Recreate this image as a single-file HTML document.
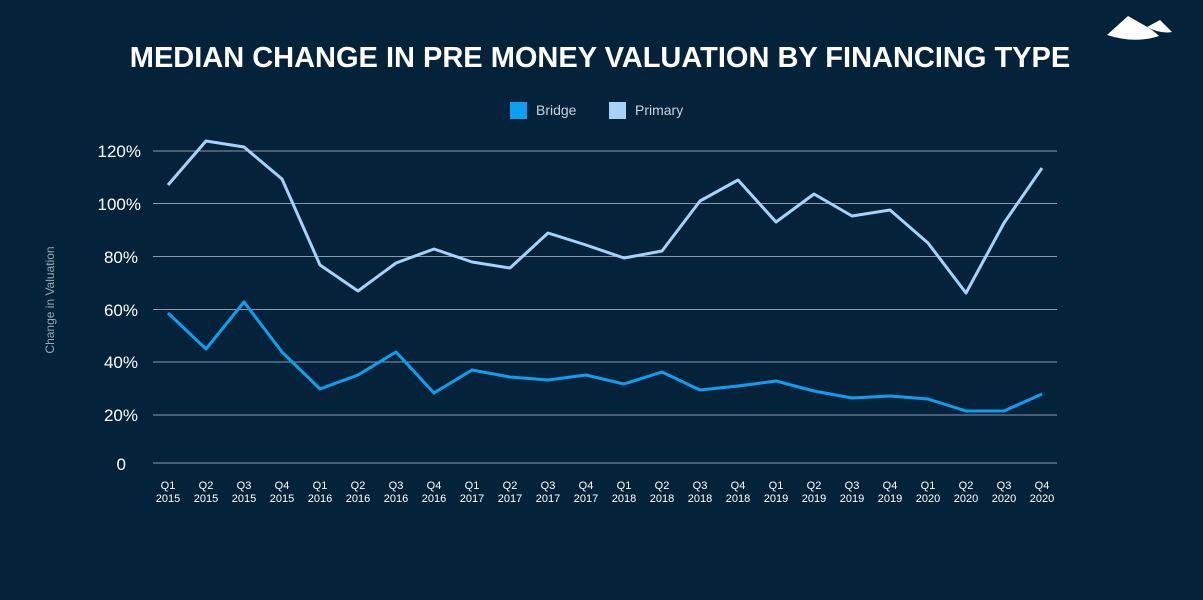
<!DOCTYPE html>
<html><head><meta charset="utf-8"><style>
body{margin:0;background:#04233b;}
svg{display:block;font-family:"Liberation Sans",sans-serif;}
</style></head><body>
<svg width="1203" height="600" viewBox="0 0 1203 600">
<rect width="1203" height="600" fill="#04233b"/>
<g transform="translate(1105,16)" fill="#fff">
<path d="M2,19 L23,0 L44,12 Q50,16 54,20 Q30,28 2,19Z"/>
<path d="M42,11 L55,4 L67,16 Q55,18 42,11Z"/>
</g>
<text x="600" y="67" text-anchor="middle" fill="#fff" font-size="29" font-weight="bold">MEDIAN CHANGE IN PRE MONEY VALUATION BY FINANCING TYPE</text>
<rect x="510" y="102" width="17" height="17" fill="#0d9ff0"/>
<text x="536" y="115" fill="#c9d3dd" font-size="14">Bridge</text>
<rect x="609" y="102" width="17" height="17" fill="#a6d1f8"/>
<text x="635" y="115" fill="#c9d3dd" font-size="14">Primary</text>
<g stroke="#8a9aa8" stroke-width="1">
<line x1="153" x2="1057" y1="151" y2="151"/><line x1="153" x2="1057" y1="203.5" y2="203.5"/>
<line x1="153" x2="1057" y1="256.5" y2="256.5"/><line x1="153" x2="1057" y1="309.5" y2="309.5"/>
<line x1="153" x2="1057" y1="362" y2="362"/><line x1="153" x2="1057" y1="415" y2="415"/>
<line x1="153" x2="1057" y1="463" y2="463"/>
</g>
<g fill="#fff" font-size="17" text-anchor="end">
<text x="141" y="157">120%</text><text x="141" y="210">100%</text><text x="138" y="263">80%</text>
<text x="138" y="316">60%</text><text x="138" y="368">40%</text><text x="138" y="421">20%</text><text x="126" y="470">0</text>
</g>
<text transform="translate(54,300) rotate(-90)" text-anchor="middle" fill="#9aa7b4" font-size="12">Change in Valuation</text>
<g id="xl" fill="#fff" font-size="11" text-anchor="middle"></g>
<polyline fill="none" stroke="#a6d1f8" stroke-width="3" stroke-linejoin="round" id="p"/>
<polyline fill="none" stroke="#0d9ff0" stroke-width="3" stroke-linejoin="round" id="b"/>
</svg>
<script>
var P=[185,141,147,179,265,291,263,249,262,268,233,245,258,251,201,180,222,194,216,210,243,293,223,168];
var B=[313,349,302,352,389,375,352,393,370,377,380,375,384,372,390,386,381,391,398,396,399,411,411,394];
var pp=[],bp=[],xl=document.getElementById('xl'),h='';
for(var i=0;i<24;i++){var x=168+i*38;pp.push(x+','+P[i]);bp.push(x+','+B[i]);
h+='<text x="'+x+'" y="489">Q'+(i%4+1)+'</text><text x="'+x+'" y="502">'+(2015+Math.floor(i/4))+'</text>';}
document.getElementById('p').setAttribute('points',pp.join(' '));
document.getElementById('b').setAttribute('points',bp.join(' '));
xl.innerHTML=h;
</script>
</body></html>
